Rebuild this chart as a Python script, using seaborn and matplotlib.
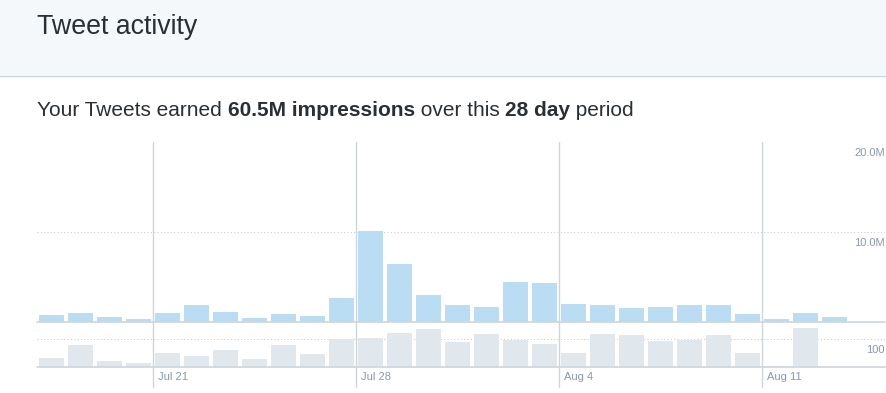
import matplotlib
matplotlib.use("Agg")
import matplotlib.pyplot as plt
import matplotlib.transforms as mtransforms
from matplotlib.patches import Rectangle
from matplotlib.lines import Line2D
import seaborn as sns

# daily values, Jul 17 - Aug 13
days = ['Jul 17', 'Jul 18', 'Jul 19', 'Jul 20', 'Jul 21', 'Jul 22', 'Jul 23',
        'Jul 24', 'Jul 25', 'Jul 26', 'Jul 27', 'Jul 28', 'Jul 29', 'Jul 30',
        'Jul 31', 'Aug 1', 'Aug 2', 'Aug 3', 'Aug 4', 'Aug 5', 'Aug 6',
        'Aug 7', 'Aug 8', 'Aug 9', 'Aug 10', 'Aug 11', 'Aug 12', 'Aug 13']
impressions_m = [0.81, 1.03, 0.59, 0.37, 1.03, 1.93, 1.15,
                 0.48, 0.93, 0.70, 2.70, 10.15, 6.48, 3.04,
                 1.93, 1.70, 4.48, 4.37, 2.04, 1.93, 1.59,
                 1.70, 1.93, 1.93, 0.93, 0.37, 1.03, 0.59]
tweets = [33, 80, 22, 15, 51, 40, 62,
          30, 80, 48, 100, 105, 122, 137,
          90, 119, 98, 83, 51, 119, 115,
          94, 98, 115, 51, 5, 140, 1]

week_pos = [3.5, 10.5, 17.5, 24.5]
week_labels = ['Jul 21', 'Jul 28', 'Aug 4', 'Aug 11']

BLUE = '#bbddf3'
GRAY = '#e1e8ed'
LINE = '#ccd6dd'
TICK = '#8899a6'
TEXT = '#292f33'

sns.set_style('white')
plt.rcParams['font.family'] = ['Liberation Sans', 'DejaVu Sans']

W, H = 887, 393
fig = plt.figure(figsize=(W / 100, H / 100), dpi=100)


def box(x0, y0, x1, y1):
    return [x0 / W, 1 - y1 / H, (x1 - x0) / W, (y1 - y0) / H]


# header band
fig.patches.append(Rectangle((0, 1 - 75 / H), 1, 75 / H, transform=fig.transFigure,
                             facecolor='#f5f8fa', edgecolor='none', zorder=0))
fig.add_artist(Line2D([0, 1], [1 - 75.5 / H] * 2, color=LINE, lw=1))
fig.text(37 / W, 1 - 33.5 / H, 'Tweet activity', fontsize=19.3, color=TEXT, va='baseline')

ax_top = fig.add_axes(box(37, 142.3, 885, 322.3))
ax_bot = fig.add_axes(box(37, 322.3, 885, 367.3))

# subtitle, pieces chained left to right so the bold parts line up
parts = [('Your Tweets earned ', 'normal'), ('60.5M impressions', 'bold'),
         (' over this ', 'normal'), ('28 day', 'bold'), (' period', 'normal')]
prev = fig.text(37 / W, 1 - 119.5 / H, parts[0][0], fontsize=15, color=TEXT, va='bottom')
for s, w in parts[1:]:
    prev = ax_top.annotate(s, xy=(1, 0), xycoords=prev, va='bottom', ha='left',
                           fontsize=15, color=TEXT, fontweight=w,
                           annotation_clip=False)

sns.barplot(x=days, y=impressions_m, ax=ax_top, color=BLUE, saturation=1,
            width=25 / 29, linewidth=0, zorder=2)
sns.barplot(x=days, y=tweets, ax=ax_bot, color=GRAY, saturation=1,
            width=25 / 29, linewidth=0, zorder=2)

for ax in (ax_top, ax_bot):
    ax.set_xlim(-0.5, 28.74)
    ax.set_xticks([])
    ax.set_yticks([])
    ax.set_xlabel('')
    ax.set_ylabel('')
    ax.patch.set_alpha(0)
    sns.despine(ax=ax, left=True, bottom=True)

ax_top.set_ylim(0, 20)
ax_bot.set_ylim(0, 45 / 28 * 100)

dots = (0, (1, 2))
ax_top.axhline(10, color='#cccccc', lw=0.8, ls=dots, zorder=1)
ax_bot.axhline(100, color='#cccccc', lw=0.8, ls=dots, zorder=1)
ax_top.axhline(0, color=LINE, lw=1.2, zorder=3, clip_on=False)
ax_bot.axhline(0, color=LINE, lw=1.2, zorder=3, clip_on=False)

for x, lab in zip(week_pos, week_labels):
    ax_top.axvline(x, color=LINE, lw=1, zorder=4)
    ax_bot.axvline(x, ymin=-20 / 45, ymax=1, color=LINE, lw=1, zorder=4, clip_on=False)
    off = mtransforms.ScaledTranslation(5 / 100, -5 / 100, fig.dpi_scale_trans)
    ax_bot.text(x, 0, lab, transform=ax_bot.transData + off, ha='left', va='top',
                fontsize=8, color=TICK)

down = mtransforms.ScaledTranslation(0, -10.7 / 100, fig.dpi_scale_trans)
for ax, val, lab in [(ax_top, 20, '20.0M'), (ax_top, 10, '10.0M'), (ax_bot, 100, '100')]:
    tr = mtransforms.blended_transform_factory(ax.transAxes, ax.transData) + down
    ax.text(1.0, val, lab, transform=tr, ha='right', va='center', fontsize=8, color=TICK)

fig.savefig('out.png', dpi=100)
